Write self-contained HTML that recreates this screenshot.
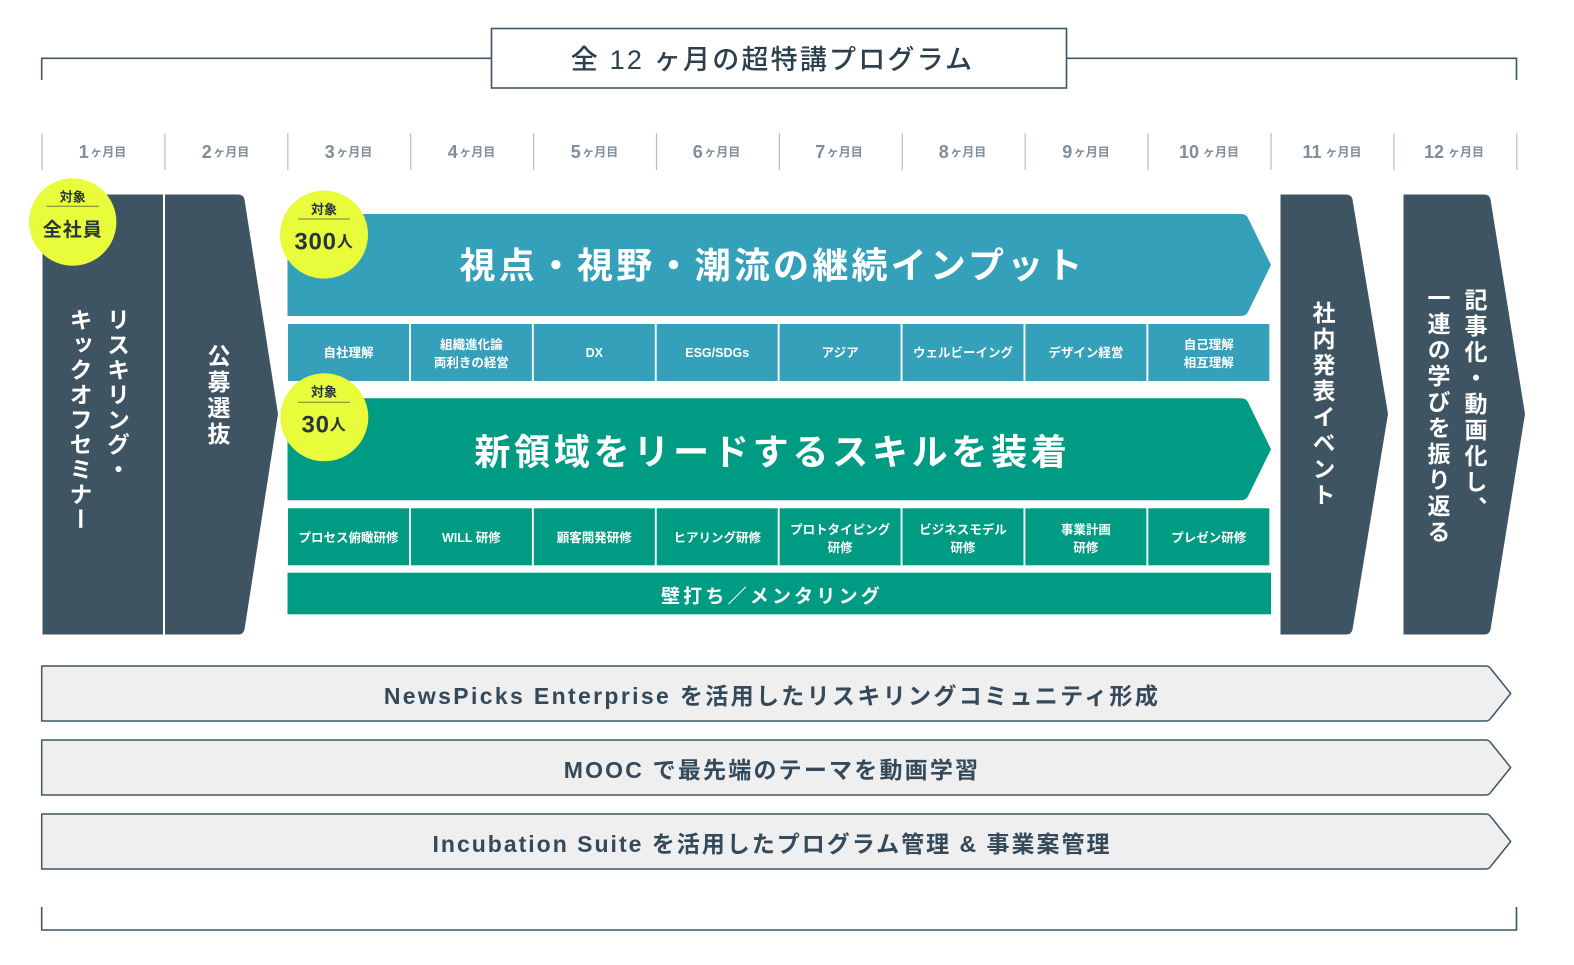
<!DOCTYPE html>
<html lang="ja"><head><meta charset="utf-8"><title>全12ヶ月の超特講プログラム</title>
<style>
html,body{margin:0;padding:0;background:#fff;width:1574px;height:965px;overflow:hidden}
svg{display:block}
text{font-family:"Liberation Sans","Noto Sans CJK JP",sans-serif;font-weight:700;text-anchor:middle;dominant-baseline:central}
.m{fill:#7f8e99;font-size:18px}.m tspan{font-size:12px}
.c{fill:#fff;font-size:12.5px}
.big{fill:#fff;font-size:36px}
.v{fill:#fff;font-size:23px;letter-spacing:3px;writing-mode:vertical-rl}
.b{fill:#34495a;font-size:23px;letter-spacing:2px}
.k{fill:#26363c}
</style></head><body>
<svg width="1574" height="965" viewBox="0 0 1574 965" xmlns="http://www.w3.org/2000/svg">
<rect width="1574" height="965" fill="#fff"/>
<!-- brackets -->
<path d="M41.7 80V58.3H491M1066 58.3H1516.5V80" fill="none" stroke="#3f5666" stroke-width="1.6"/>
<path d="M41.7 907V930H1516.5V907" fill="none" stroke="#3f5666" stroke-width="1.6"/>
<rect x="491.5" y="28.5" width="575" height="59.5" fill="#fff" stroke="#3f5666" stroke-width="1.6"/>
<text x="772.5" y="60" style="font-size:27px;letter-spacing:2.2px;font-weight:500;fill:#2b3f4c">全 12 ヶ月の超特講プログラム</text>
<!-- ticks -->
<g stroke="#b7bfc5" stroke-width="1.2">
<path d="M42 133V170M164.9 133V170M287.8 133V170M410.7 133V170M533.6 133V170M656.5 133V170M779.4 133V170M902.3 133V170M1025.2 133V170M1148.1 133V170M1271 133V170M1393.9 133V170M1516.8 133V170"/>
</g>
<text class="m" x="102.5" y="152">1<tspan dx="1.5">ヶ月目</tspan></text>
<text class="m" x="225.5" y="152">2<tspan dx="1.5">ヶ月目</tspan></text>
<text class="m" x="348.5" y="152">3<tspan dx="1.5">ヶ月目</tspan></text>
<text class="m" x="471.5" y="152">4<tspan dx="1.5">ヶ月目</tspan></text>
<text class="m" x="594.5" y="152">5<tspan dx="1.5">ヶ月目</tspan></text>
<text class="m" x="716.5" y="152">6<tspan dx="1.5">ヶ月目</tspan></text>
<text class="m" x="839" y="152">7<tspan dx="1.5">ヶ月目</tspan></text>
<text class="m" x="962.5" y="152">8<tspan dx="1.5">ヶ月目</tspan></text>
<text class="m" x="1086" y="152">9<tspan dx="1.5">ヶ月目</tspan></text>
<text class="m" x="1209" y="152">10<tspan dx="4">ヶ月目</tspan></text>
<text class="m" x="1332" y="152">11<tspan dx="4">ヶ月目</tspan></text>
<text class="m" x="1454" y="152">12<tspan dx="4">ヶ月目</tspan></text>
<!-- dark arrows -->
<rect x="42.5" y="194.5" width="120.5" height="440" fill="#3f5462"/>
<path d="M165 194.5H238Q243.5 194.5 244.5 199.5L278 414L244.5 629.5Q243.5 634.5 238 634.5H165Z" fill="#3f5462"/>
<path d="M1280.5 194.5H1346Q1351.5 194.5 1352.5 199.5L1388 414L1352.5 629.5Q1351.5 634.5 1346 634.5H1280.5Z" fill="#3f5462"/>
<path d="M1403.5 194.5H1484Q1489.5 194.5 1490.5 199.5L1525 414L1490.5 629.5Q1489.5 634.5 1484 634.5H1403.5Z" fill="#3f5462"/>
<text class="v" x="116.5" y="308" style="text-anchor:start;letter-spacing:1.9px">リスキリング・</text>
<text class="v" x="79" y="308" style="text-anchor:start;letter-spacing:1.9px">キックオフセミナー</text>
<text class="v" x="217" y="396">公募選抜</text>
<text class="v" x="1322" y="405">社内発表イベント</text>
<text class="v" x="1474" y="405">記事化・動画化し、</text>
<text class="v" x="1437" y="416">一連の学びを振り返る</text>
<!-- teal -->
<path d="M287.5 214H1241Q1246 214 1248 218L1271 265L1248 312Q1246 316 1241 316H287.5Z" fill="#34a0b9"/>
<text class="big" x="772.5" y="265.5" style="letter-spacing:3.2px">視点・視野・潮流の継続インプット</text>
<g fill="#34a0b9">
<rect x="288" y="324" width="121" height="57"/><rect x="410.9" y="324" width="121" height="57"/><rect x="533.8" y="324" width="121" height="57"/><rect x="656.7" y="324" width="121" height="57"/><rect x="779.6" y="324" width="121" height="57"/><rect x="902.5" y="324" width="121" height="57"/><rect x="1025.4" y="324" width="121" height="57"/><rect x="1148.3" y="324" width="121" height="57"/>
</g>
<text class="c" x="348.5" y="353">自社理解</text>
<text class="c" x="471.4" y="345">組織進化論</text><text class="c" x="471.4" y="363">両利きの経営</text>
<text class="c" x="594.3" y="353">DX</text>
<text class="c" x="717.2" y="353">ESG/SDGs</text>
<text class="c" x="840.1" y="353">アジア</text>
<text class="c" x="963" y="353">ウェルビーイング</text>
<text class="c" x="1085.9" y="353">デザイン経営</text>
<text class="c" x="1208.8" y="345">自己理解</text><text class="c" x="1208.8" y="363">相互理解</text>
<!-- green -->
<path d="M287.5 398.3H1241Q1246 398.3 1248 402.3L1271 449.3L1248 496.3Q1246 500.3 1241 500.3H287.5Z" fill="#009b83"/>
<text class="big" x="772.5" y="452" style="letter-spacing:3.75px">新領域をリードするスキルを装着</text>
<g fill="#009b83">
<rect x="288" y="508.3" width="121" height="57"/><rect x="410.9" y="508.3" width="121" height="57"/><rect x="533.8" y="508.3" width="121" height="57"/><rect x="656.7" y="508.3" width="121" height="57"/><rect x="779.6" y="508.3" width="121" height="57"/><rect x="902.5" y="508.3" width="121" height="57"/><rect x="1025.4" y="508.3" width="121" height="57"/><rect x="1148.3" y="508.3" width="121" height="57"/>
<rect x="287.5" y="572.7" width="983.5" height="41.6"/>
</g>
<text class="c" x="348.5" y="538">プロセス俯瞰研修</text>
<text class="c" x="471.4" y="538">WILL 研修</text>
<text class="c" x="594.3" y="538">顧客開発研修</text>
<text class="c" x="717.2" y="538">ヒアリング研修</text>
<text class="c" x="840.1" y="530">プロトタイピング</text><text class="c" x="840.1" y="548">研修</text>
<text class="c" x="963" y="530">ビジネスモデル</text><text class="c" x="963" y="548">研修</text>
<text class="c" x="1085.9" y="530">事業計画</text><text class="c" x="1085.9" y="548">研修</text>
<text class="c" x="1208.8" y="538">プレゼン研修</text>
<text x="772" y="597" style="fill:#fff;font-size:19px;letter-spacing:3.2px">壁打ち／メンタリング</text>
<!-- badges -->
<circle cx="72.7" cy="222" r="43.7" fill="#e8fc3c"/>
<text class="k" x="72.7" y="197" style="font-size:13px">対象</text>
<path d="M46.5 206.3H99" stroke="#6f7f3a" stroke-width="1"/>
<text class="k" x="72.7" y="230.5" style="font-size:19px;letter-spacing:1px">全社員</text>
<circle cx="324" cy="234.6" r="44" fill="#e8fc3c"/>
<text class="k" x="324" y="209.5" style="font-size:13px">対象</text>
<path d="M298 219H350" stroke="#6f7f3a" stroke-width="1"/>
<text class="k" x="324" y="242" style="font-size:24px;letter-spacing:.8px">300<tspan style="font-size:16px">人</tspan></text>
<circle cx="324.3" cy="417.3" r="44" fill="#e8fc3c"/>
<text class="k" x="324" y="392" style="font-size:13px">対象</text>
<path d="M298 402.3H350" stroke="#6f7f3a" stroke-width="1"/>
<text class="k" x="324" y="425" style="font-size:24px;letter-spacing:.8px">30<tspan style="font-size:16px">人</tspan></text>
<!-- bottom bars -->
<g fill="#efeff0" stroke="#3f5666" stroke-width="1.5" stroke-linejoin="round">
<path d="M41.7 666H1486Q1489 666 1491 669L1510.7 693.5L1491 718Q1489 721 1486 721H41.7Z"/>
<path d="M41.7 740H1486Q1489 740 1491 743L1510.7 767.5L1491 792Q1489 795 1486 795H41.7Z"/>
<path d="M41.7 814H1486Q1489 814 1491 817L1510.7 841.5L1491 866Q1489 869 1486 869H41.7Z"/>
</g>
<text class="b" x="772" y="696" style="letter-spacing:2.35px">NewsPicks Enterprise を活用したリスキリングコミュニティ形成</text>
<text class="b" x="772" y="770" style="letter-spacing:2.2px">MOOC で最先端のテーマを動画学習</text>
<text class="b" x="772" y="844">Incubation Suite を活用したプログラム管理 &amp; 事業案管理</text>
</svg>
</body></html>
